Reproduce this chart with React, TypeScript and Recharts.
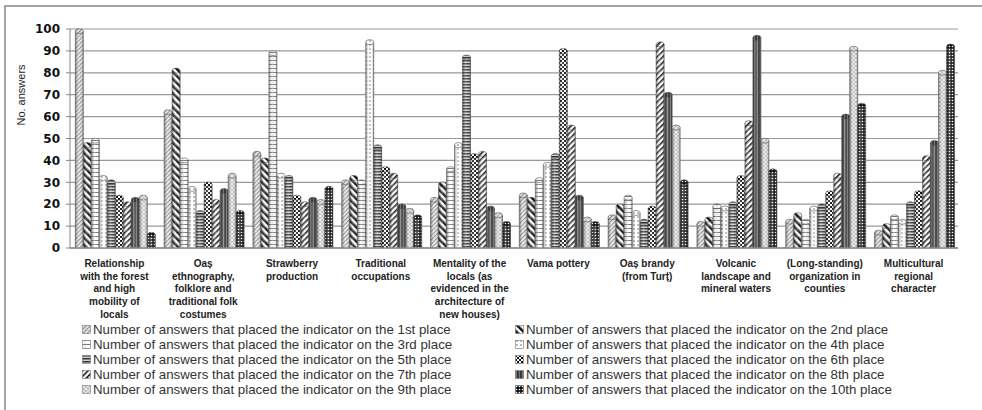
import React from 'react';
import { BarChart, Bar, XAxis, YAxis, CartesianGrid, Legend } from 'recharts';

const categories = [
  'Relationship\nwith the forest\nand high\nmobility of\nlocals',
  'Oaș\nethnography,\nfolklore and\ntraditional folk\ncostumes',
  'Strawberry\nproduction',
  'Traditional\noccupations',
  'Mentality of the\nlocals (as\nevidenced in the\narchitecture of\nnew houses)',
  'Vama pottery',
  'Oaș brandy\n(from Turț)',
  'Volcanic\nlandscape and\nmineral waters',
  '(Long-standing)\norganization in\ncounties',
  'Multicultural\nregional\ncharacter',
];

const place1 = [99, 62, 43, 30, 22, 24, 14, 11, 12, 7];
const place2 = [47, 81, 40, 32, 29, 22, 19, 13, 15, 10];
const place3 = [49, 40, 89, 30, 36, 31, 23, 19, 12, 14];
const place4 = [32, 27, 33, 94, 47, 38, 16, 18, 18, 12];
const place5 = [30, 16, 32, 46, 87, 42, 12, 20, 19, 20];
const place6 = [23, 29, 23, 36, 42, 90, 18, 32, 25, 25];
const place7 = [20, 21, 20, 33, 43, 55, 93, 57, 33, 41];
const place8 = [22, 26, 22, 19, 18, 23, 70, 96, 60, 48];
const place9 = [23, 33, 21, 17, 15, 13, 55, 49, 91, 80];
const place10 = [6, 16, 27, 14, 11, 11, 30, 35, 65, 92];

const seriesNames = [
  'Number of answers that placed the indicator on the 1st place',
  'Number of answers that placed the indicator on the 2nd place',
  'Number of answers that placed the indicator on the 3rd place',
  'Number of answers that placed the indicator on the 4th place',
  'Number of answers that placed the indicator on the 5th place',
  'Number of answers that placed the indicator on the 6th place',
  'Number of answers that placed the indicator on the 7th place',
  'Number of answers that placed the indicator on the 8th place',
  'Number of answers that placed the indicator on the 9th place',
  'Number of answers that placed the indicator on the 10th place',
];

const yTicks = [0, 10, 20, 30, 40, 50, 60, 70, 80, 90, 100];

const allSeries = [place1, place2, place3, place4, place5, place6, place7, place8, place9, place10];
const keys = allSeries.map((_, i) => 's' + (i + 1));

const data = categories.map((name, ci) => {
  const row: any = { name };
  allSeries.forEach((s, si) => { row[keys[si]] = s[ci]; });
  return row;
});

// cylinder-ish bar like the old excel 3d chart
const Cylinder = (props: any) => {
  const { x, y, width, height, fill } = props;
  if (!height || height <= 0) return null;
  const rx = width / 2;
  const ry = Math.min(2.5, width / 3);
  return (
    <g>
      <rect x={x} y={y} width={width} height={height} fill={fill} />
      <rect x={x} y={y} width={width} height={height} fill="url(#shade)" />
      <path d={`M${x},${y} L${x},${y + height} M${x + width},${y} L${x + width},${y + height}`} stroke="#555" strokeWidth={0.6} />
      <ellipse cx={x + rx} cy={y} rx={rx} ry={ry} fill={fill} stroke="#555" strokeWidth={0.6} />
    </g>
  );
};

const CatTick = (props: any) => {
  const { x, y, payload } = props;
  const lines = String(payload.value).split('\n');
  return (
    <text x={x} y={y + 19} textAnchor="middle" fontFamily="'Liberation Sans', Arial, sans-serif" fontWeight="bold" fontSize={10} fill="#222">
      {lines.map((l, i) => (
        <tspan key={i} x={x} dy={i === 0 ? 0 : 12.7}>{l}</tspan>
      ))}
    </text>
  );
};

const LegendBox = () => (
  <div style={{ display: 'grid', gridTemplateColumns: '433px 440px', paddingLeft: 82, fontFamily: "'Liberation Sans', Arial, sans-serif", fontSize: 13.3, color: '#333', lineHeight: '15px' }}>
    {seriesNames.map((n, i) => (
      <div key={i} style={{ display: 'flex', alignItems: 'center', whiteSpace: 'nowrap' }}>
        <svg width={9} height={9} style={{ marginRight: 2 }}>
          <rect x={0.5} y={0.5} width={8} height={8} fill={`url(#p${i + 1})`} stroke="#777" strokeWidth={0.6} />
        </svg>
        <span>{n}</span>
      </div>
    ))}
  </div>
);

const App = () => {
  return (
    <div style={{ position: 'absolute', left: 0, top: 0, width: 982, height: 410, background: '#fff' }}>
      <BarChart width={982} height={410} data={data} margin={{ top: 29, right: 24, bottom: 82, left: 0 }} barCategoryGap="6%" barGap={0}>
        <defs>
          <linearGradient id="shade" x1="0" y1="0" x2="1" y2="0">
            <stop offset="0" stopColor="#000" stopOpacity={0.35} />
            <stop offset="0.4" stopColor="#fff" stopOpacity={0.25} />
            <stop offset="0.7" stopColor="#fff" stopOpacity={0.05} />
            <stop offset="1" stopColor="#000" stopOpacity={0.4} />
          </linearGradient>
          <pattern id="p1" width="3" height="3" patternUnits="userSpaceOnUse" patternTransform="rotate(45)">
            <rect width="3" height="3" fill="#e2e2e2" />
            <line x1="0.5" y1="0" x2="0.5" y2="3" stroke="#888" strokeWidth="1" />
          </pattern>
          <pattern id="p2" width="5" height="5" patternUnits="userSpaceOnUse" patternTransform="rotate(-45)">
            <rect width="5" height="5" fill="#fff" />
            <rect width="2.5" height="5" fill="#111" />
          </pattern>
          <pattern id="p3" width="6" height="4" patternUnits="userSpaceOnUse">
            <rect width="6" height="4" fill="#fff" />
            <line x1="0" y1="0.5" x2="6" y2="0.5" stroke="#777" strokeWidth="1" />
            <line x1="3" y1="0" x2="3" y2="4" stroke="#aaa" strokeWidth="0.5" />
          </pattern>
          <pattern id="p4" width="4" height="4" patternUnits="userSpaceOnUse">
            <rect width="4" height="4" fill="#fff" />
            <rect x="1.5" y="0" width="1" height="2" fill="#777" />
          </pattern>
          <pattern id="p5" width="4" height="3" patternUnits="userSpaceOnUse">
            <rect width="4" height="3" fill="#ccc" />
            <rect width="4" height="1.5" fill="#333" />
          </pattern>
          <pattern id="p6" width="4" height="4" patternUnits="userSpaceOnUse">
            <rect width="4" height="4" fill="#fff" />
            <rect width="2" height="2" fill="#111" />
            <rect x="2" y="2" width="2" height="2" fill="#111" />
          </pattern>
          <pattern id="p7" width="4" height="4" patternUnits="userSpaceOnUse" patternTransform="rotate(45)">
            <rect width="4" height="4" fill="#fff" />
            <rect width="1.6" height="4" fill="#111" />
          </pattern>
          <pattern id="p8" width="3" height="3" patternUnits="userSpaceOnUse">
            <rect width="3" height="3" fill="#3a3a3a" />
            <line x1="1.5" y1="0" x2="1.5" y2="3" stroke="#888" strokeWidth="0.8" />
          </pattern>
          <pattern id="p9" width="4" height="4" patternUnits="userSpaceOnUse">
            <rect width="4" height="4" fill="#f4f4f4" />
            <circle cx="2" cy="2" r="1.5" fill="none" stroke="#999" strokeWidth="0.7" />
          </pattern>
          <pattern id="p10" width="3" height="3" patternUnits="userSpaceOnUse">
            <rect width="3" height="3" fill="#111" />
            <circle cx="1.5" cy="1.5" r="0.8" fill="#fff" />
          </pattern>
        </defs>
        <rect x={5} y={6} width={1000} height={420} fill="none" stroke="#888" strokeWidth={1.5} />
        <CartesianGrid vertical={false} stroke="#999" strokeWidth={1.2} />
        <XAxis dataKey="name" height={80} interval={0} tickLine={false} tickSize={0} tickMargin={0} axisLine={{ stroke: '#888', strokeWidth: 1.5 }} tick={<CatTick />} />
        <YAxis width={70} domain={[0, 100]} ticks={yTicks} interval={0} tickSize={4} tickMargin={6}
          axisLine={{ stroke: '#888' }} tickLine={{ stroke: '#888' }}
          tick={{ fontFamily: "'DejaVu Sans', sans-serif", fontWeight: 'bold', fontSize: 12, fill: '#111' }}
          label={({ viewBox }: any) => (
            <text x={22} y={viewBox.y + 66} transform={`rotate(-90, 22, ${viewBox.y + 66})`} textAnchor="middle" dominantBaseline="middle" fontFamily="'Liberation Sans', Arial, sans-serif" fontSize={11} fill="#222">No. answers</text>
          )}
        />
        <Legend verticalAlign="middle" align="center" layout="horizontal" wrapperStyle={{ top: 322, left: 0, width: 982 }} content={() => <LegendBox />} />
        {keys.map((k, i) => (
          <Bar key={k} dataKey={k} name={seriesNames[i]} fill={`url(#p${i + 1})`} isAnimationActive={false} shape={(p: any) => <Cylinder {...p} />} />
        ))}
      </BarChart>
    </div>
  );
};

export default App;
